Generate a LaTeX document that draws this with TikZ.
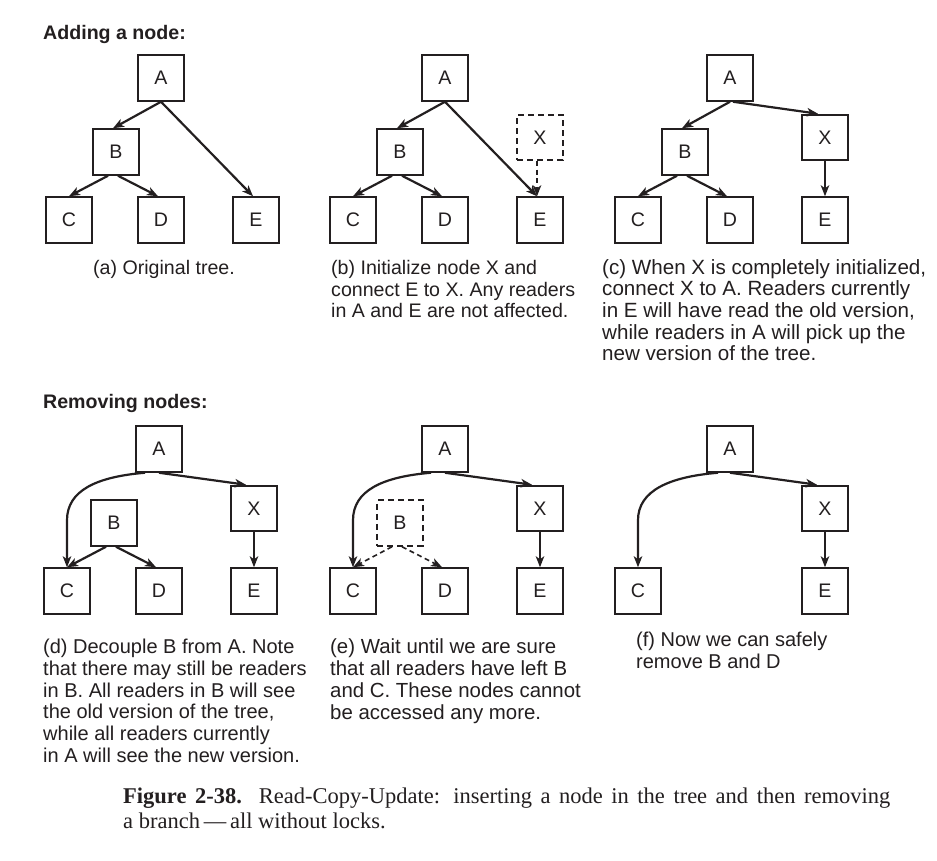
\documentclass[tikz,border=0pt]{standalone}
\usepackage{fontspec}
\setmainfont{Liberation Serif}
\newfontfamily\hv{Liberation Sans}
\usetikzlibrary{arrows.meta,calc}
\definecolor{ink}{RGB}{35,31,32}
\newcommand{\capsize}[1]{\fontsize{#1}{21.7}\selectfont}
\begin{document}
\begin{tikzpicture}[x=1pt,y=-1pt,
 box/.style={draw=ink,line width=2pt,minimum width=45.5pt,minimum height=45.5pt,inner sep=0pt,font=\hv\fontsize{19.6}{22}\selectfont,text=ink},
 dbox/.style={box,dash pattern=on 6pt off 4pt},
 arr/.style={draw=ink,line width=2.2pt,-{Stealth[length=11pt,width=8.5pt,inset=3pt]}},
 tarr/.style={arr,line width=1.5pt},
 darr/.style={arr,line width=1.6pt,dash pattern=on 5pt off 3.5pt},
 capt/.style={font=\hv\fontsize{19.6}{21.7}\selectfont,text=ink,align=left,inner sep=0pt,anchor=north west},
 ttl/.style={font=\hv\bfseries\fontsize{19.6}{22}\selectfont,text=ink,inner sep=0pt,anchor=base west},
]
\useasboundingbox[fill=white] (0,0) rectangle (937,861);

\node[ttl] (t1) at (43,40) {Adding a node:};
\node[ttl] (t2) at (43,408) {Removing nodes:};

% ---------- (a)
\begin{scope}
\node[box] (aA) at (161,78) {A};
\node[box] (aB) at (116,152) {B};
\node[box] (aC) at (69,220) {C};
\node[box] (aD) at (161,220) {D};
\node[box] (aE) at (256,220) {E};
\draw[arr] (aA.south) -- ([xshift=-3pt]aB.north);
\draw[arr] (aA.south) -- ([xshift=-3pt]aE.north);
\draw[arr] ([xshift=-8pt]aB.south) -- (aC.north);
\draw[arr] ([xshift=2pt]aB.south) -- ([xshift=-3pt]aD.north);
\node[capt,anchor=north] (capa) at (164,260) {(a) Original tree.};
\end{scope}

% ---------- (b)
\begin{scope}[shift={(284,0)}]
\node[box] (bA) at (161,78) {A};
\node[box] (bB) at (116,152) {B};
\node[box] (bC) at (69,220) {C};
\node[box] (bD) at (161,220) {D};
\node[box] (bE) at (256,220) {E};
\node[dbox] (bX) at (256,137.5) {X};
\draw[arr] (bA.south) -- ([xshift=-3pt]bB.north);
\draw[arr] (bA.south) -- ([xshift=-3pt]bE.north);
\draw[arr] ([xshift=-8pt]bB.south) -- (bC.north);
\draw[arr] ([xshift=2pt]bB.south) -- ([xshift=-3pt]bD.north);
\draw[darr] ([xshift=-3pt]bX.south) -- ([xshift=-3pt]bE.north);
\node[capt] (capb) at (47,260) {(b) Initialize node X and\\connect E to X. Any readers\\in A and E are not affected.};
\end{scope}

% ---------- (c)
\begin{scope}[shift={(569,0)}]
\node[box] (cA) at (161,78) {A};
\node[box] (cB) at (116,152) {B};
\node[box] (cC) at (69,220) {C};
\node[box] (cD) at (161,220) {D};
\node[box] (cX) at (256,137.5) {X};
\node[box] (cE) at (256,220) {E};
\draw[arr] (cA.south) -- ([xshift=-3pt]cB.north);
\draw[arr] ([xshift=3pt]cA.south) -- ([xshift=-7pt]cX.north);
\draw[arr] ([xshift=-8pt]cB.south) -- (cC.north);
\draw[arr] ([xshift=2pt]cB.south) -- ([xshift=-3pt]cD.north);
\draw[tarr] (cX.south) -- (cE.north);
\node[capt,font=\hv\capsize{20.6}] (capc) at (33,259) {(c) When X is completely initialized,\\connect X to A. Readers currently\\in E will have read the old version,\\while readers in A will pick up the\\new version of the tree.};
\end{scope}

% ---------- (d)
\begin{scope}[shift={(-2,371)}]
\node[box] (dA) at (161,78) {A};
\node[box] (dB) at (116,152) {B};
\node[box] (dC) at (69,220) {C};
\node[box] (dD) at (161,220) {D};
\node[box] (dX) at (256,137.5) {X};
\node[box] (dE) at (256,220) {E};
\draw[arr] ([xshift=-14pt]dA.south) .. controls +(-48,4) and +(0,-30) .. ([yshift=47pt]dC.north) -- (dC.north);
\draw[arr] (dA.south) -- ([xshift=-8pt]dX.north);
\draw[arr] ([xshift=-8pt]dB.south) -- (dC.north);
\draw[arr] ([xshift=2pt]dB.south) -- ([xshift=-3pt]dD.north);
\draw[tarr] (dX.south) -- (dE.north);
\node[capt,font=\hv\capsize{20}] (capd) at (45,268) {(d) Decouple B from A. Note\\that there may still be readers\\in B. All readers in B will see\\the old version of the tree,\\while all readers currently\\in A will see the new version.};
\end{scope}

% ---------- (e)
\begin{scope}[shift={(284,371)}]
\node[box] (eA) at (161,78) {A};
\node[dbox] (eB) at (116,152) {B};
\node[box] (eC) at (69,220) {C};
\node[box] (eD) at (161,220) {D};
\node[box] (eX) at (256,137.5) {X};
\node[box] (eE) at (256,220) {E};
\draw[arr] ([xshift=-14pt]eA.south) .. controls +(-48,4) and +(0,-30) .. ([yshift=47pt]eC.north) -- (eC.north);
\draw[arr] (eA.south) -- ([xshift=-8pt]eX.north);
\draw[darr] ([xshift=-8pt]eB.south) -- (eC.north);
\draw[darr] ([xshift=2pt]eB.south) -- ([xshift=-3pt]eD.north);
\draw[tarr] (eX.south) -- (eE.north);
\node[capt,font=\hv\capsize{20.4}] (cape) at (46,268) {(e) Wait until we are sure\\that all readers have left B\\and C. These nodes cannot\\be accessed any more.};
\end{scope}

% ---------- (f)
\begin{scope}[shift={(569,371)}]
\node[box] (fA) at (161,78) {A};
\node[box] (fC) at (69,220) {C};
\node[box] (fX) at (256,137.5) {X};
\node[box] (fE) at (256,220) {E};
\draw[arr] ([xshift=-12pt]fA.south) .. controls +(-48,4) and +(0,-30) .. ([yshift=47pt]fC.north) -- (fC.north);
\draw[arr] (fA.south) -- ([xshift=-8pt]fX.north);
\draw[tarr] (fX.south) -- (fE.north);
\node[capt,font=\hv\capsize{20}] (capf) at (67,261) {(f) Now we can safely\\remove B and D};
\end{scope}

% ---------- figure caption
\node[font=\fontsize{22.5}{25}\selectfont,text=ink,align=left,inner sep=0pt,anchor=north west] (fig) at (123,788)
 {\hbox to 767pt{\textbf{Figure 2-38.}\ \ Read-Copy-Update: inserting a node in the tree and then removing}\\a branch\,—\,all without locks.};
\end{tikzpicture}
\end{document}
